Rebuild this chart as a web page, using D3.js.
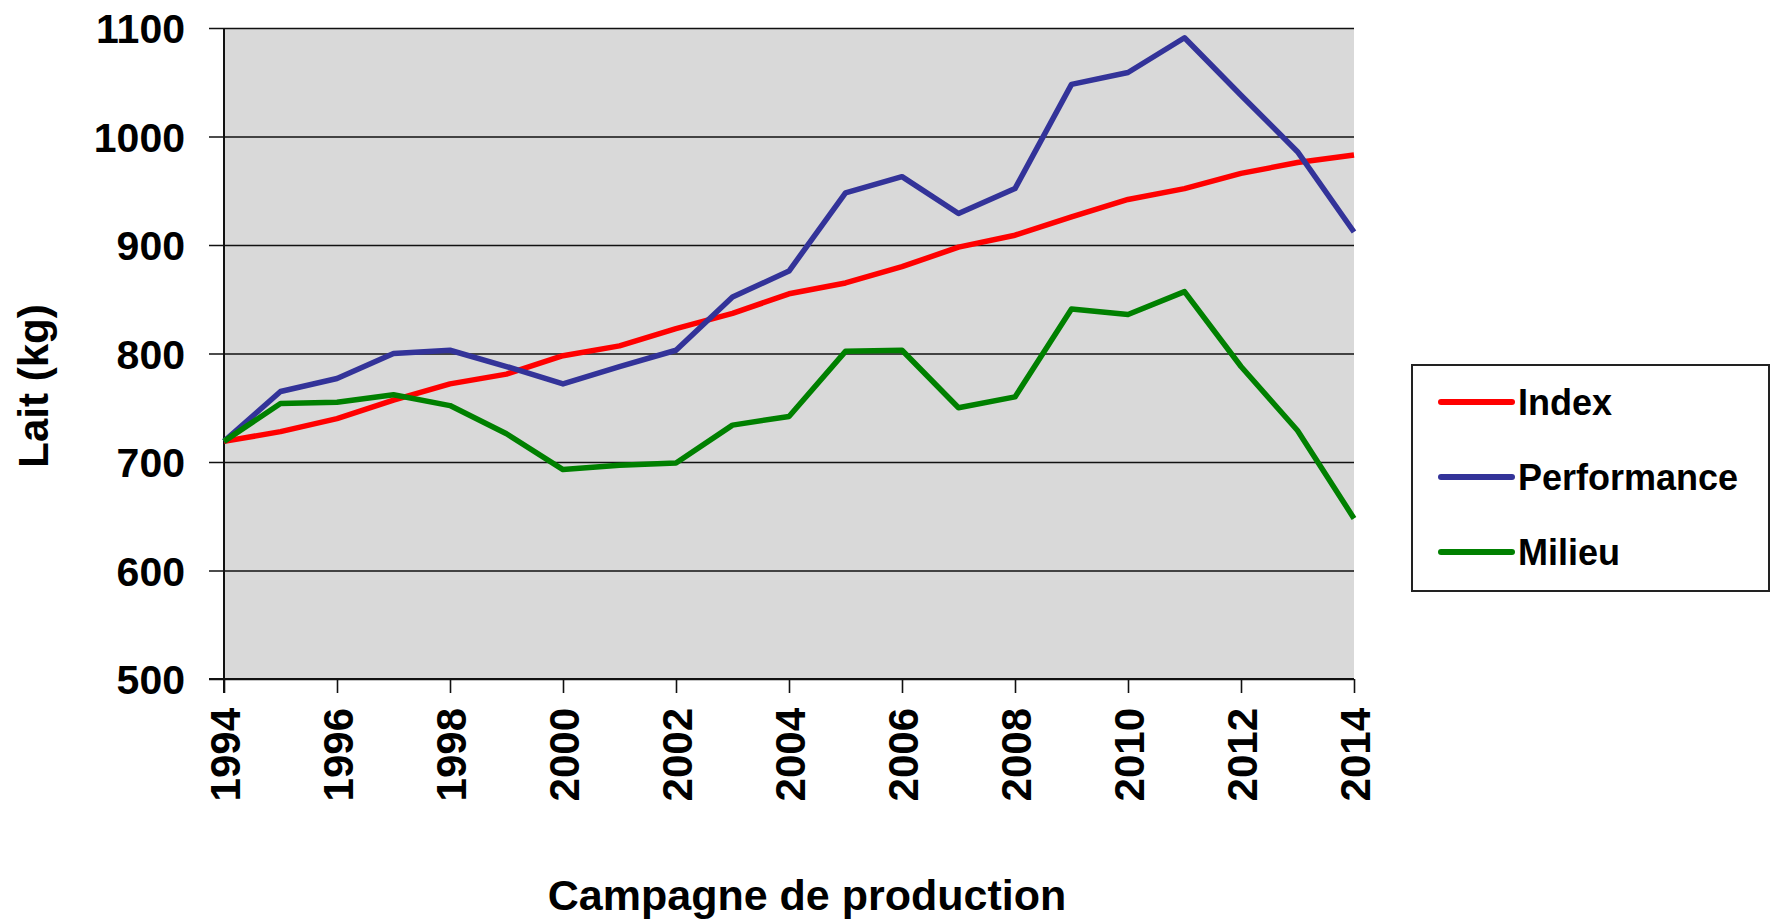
<!DOCTYPE html>
<html>
<head>
<meta charset="utf-8">
<script src="https://cdn.jsdelivr.net/npm/d3@7"></script>
<style>
  body { margin: 0; background: #fff; }
  text { font-family: "Liberation Sans", Arial, sans-serif; }
</style>
</head>
<body>
<div id="graphique"></div>
<script>
/*--- donnees ---*/
let annees = d3.range(1994, 2015)
let index_lait = [719, 728, 740, 757, 772, 781, 798, 807, 823, 837, 855, 865, 880, 898, 909, 926, 942, 952, 966, 976, 983]
let performance = [719, 765, 777, 800, 803, 788, 772, 788, 803, 852, 876, 948, 963, 929, 952, 1048, 1059, 1091, 1038, 986, 912]
let milieu = [719, 754, 755, 762, 752, 726, 693, 697, 699, 734, 742, 802, 803, 750, 760, 841, 836, 857, 788, 729, 648]
let ticks_y = [500, 600, 700, 800, 900, 1000, 1100]
let ticks_x = [1994, 1996, 1998, 2000, 2002, 2004, 2006, 2008, 2010, 2012, 2014]
let noms = ["Index", "Performance", "Milieu"]
let couleurs = ["#ff0000", "#333399", "#008000"]

let width = 1771
let height = 921

let svg = d3.select("div#graphique").append("svg")
    .attr("width", width)
    .attr("height", height)

/*--- echelles ---*/
let x = d3.scaleLinear()
    .domain([1994, 2014])
    .range([224, 1354]);

let y = d3.scaleLinear()
    .domain([500, 1100])
    .range([679, 28]);

// fond gris
svg.append("rect")
    .attr("x", x(1994))
    .attr("y", y(1100))
    .attr("width", x(2014) - x(1994))
    .attr("height", y(500) - y(1100))
    .attr("fill", "#d9d9d9");

// grille + axe y
let axeY = svg.append("g")
    .attr("transform", "translate(" + x(1994) + ",0)")
    .call(d3.axisLeft(y)
        .tickValues(ticks_y)
        .tickSize(-(x(2014) - x(1994)))
        .tickPadding(39)
        .tickFormat(d3.format("d")));
axeY.select(".domain").remove();
axeY.selectAll(".tick line")
    .attr("x1", -15)
    .attr("stroke", "#111")
    .attr("stroke-width", 1.6);
axeY.selectAll(".tick text")
    .attr("font-size", 41)
    .attr("font-weight", "bold")
    .attr("fill", "#000")
    .attr("dy", "0.36em");

svg.append("line")
    .attr("x1", x(1994)).attr("x2", x(1994))
    .attr("y1", y(1100)).attr("y2", y(500) + 14)
    .attr("stroke", "#111")
    .attr("stroke-width", 2);

// axe x
let axeX = svg.append("g")
    .attr("transform", "translate(0," + y(500) + ")")
    .call(d3.axisBottom(x)
        .tickValues(ticks_x)
        .tickSize(14)
        .tickFormat(d3.format("d")));
axeX.select(".domain")
    .attr("d", "M" + (x(1994) - 15) + ",0H" + x(2014))
    .attr("stroke", "#111")
    .attr("stroke-width", 2);
axeX.selectAll(".tick line")
    .attr("stroke", "#111")
    .attr("stroke-width", 1.6);
axeX.selectAll(".tick text")
    .attr("font-size", 42)
    .attr("font-weight", "bold")
    .attr("fill", "#000")
    .attr("text-anchor", "end")
    .attr("transform", "translate(0,29) rotate(-90)")
    .attr("x", 0)
    .attr("y", 0)
    .attr("dy", "0.36em");

/*--- courbes ---*/
let ligne = d3.line()
    .x((d, i) => x(annees[i]))
    .y(d => y(d));

let series = [index_lait, performance, milieu]

svg.append("g")
    .selectAll("path")
    .data(series)
    .enter().append("path")
    .attr("d", d => ligne(d))
    .attr("fill", "none")
    .attr("stroke", (d, i) => couleurs[i])
    .attr("stroke-width", 5.5)
    .attr("stroke-linejoin", "round");

/*--- titres ---*/
svg.append("text")
    .attr("transform", "translate(48,386) rotate(-90)")
    .attr("text-anchor", "middle")
    .attr("font-size", 42)
    .attr("font-weight", "bold")
    .text("Lait (kg)");

svg.append("text")
    .attr("x", 807)
    .attr("y", 910)
    .attr("text-anchor", "middle")
    .attr("font-size", 43)
    .attr("font-weight", "bold")
    .text("Campagne de production");

/*--- legende ---*/
let legende = svg.append("g");
legende.append("rect")
    .attr("x", 1412)
    .attr("y", 365)
    .attr("width", 357)
    .attr("height", 226)
    .attr("fill", "#fff")
    .attr("stroke", "#222")
    .attr("stroke-width", 2);

let item = legende.selectAll("g.item")
    .data(noms)
    .enter().append("g")
    .attr("class", "item")
    .attr("transform", (d, i) => "translate(0," + (402 + i * 75) + ")");

item.append("line")
    .attr("x1", 1441).attr("x2", 1512)
    .attr("y1", 0).attr("y2", 0)
    .attr("stroke", (d, i) => couleurs[i])
    .attr("stroke-width", 6)
    .attr("stroke-linecap", "round");

item.append("text")
    .attr("x", 1518)
    .attr("dy", "0.36em")
    .attr("font-size", 36)
    .attr("font-weight", "bold")
    .text(d => d);
</script>
</body>
</html>
